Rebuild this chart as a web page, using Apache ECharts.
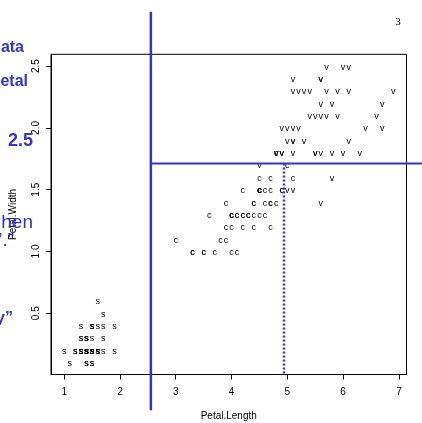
<!DOCTYPE html>
<html>
<head>
<meta charset="utf-8">
<script src="https://cdn.jsdelivr.net/npm/echarts@6/dist/echarts.min.js"></script>
<style>html,body{margin:0;padding:0;background:#fff}#c{width:422px;height:423px}</style>
</head>
<body>
<div id="c"></div>
<script>
const setosaLength = [1.4,1.4,1.3,1.5,1.4,1.7,1.4,1.5,1.4,1.5,1.5,1.6,1.4,1.1,1.2,1.5,1.3,1.4,1.7,1.5,1.7,1.5,1.0,1.7,1.9,1.6,1.6,1.5,1.4,1.6,1.6,1.5,1.5,1.4,1.5,1.2,1.3,1.4,1.3,1.5,1.3,1.3,1.3,1.6,1.9,1.4,1.6,1.4,1.5,1.4];
const setosaWidth  = [0.2,0.2,0.2,0.2,0.2,0.4,0.3,0.2,0.2,0.1,0.2,0.2,0.1,0.1,0.2,0.4,0.4,0.3,0.3,0.3,0.2,0.4,0.2,0.5,0.2,0.2,0.4,0.2,0.2,0.2,0.2,0.4,0.1,0.2,0.2,0.2,0.2,0.1,0.2,0.2,0.3,0.3,0.2,0.6,0.4,0.3,0.2,0.2,0.2,0.2];
const versicolorLength = [4.7,4.5,4.9,4.0,4.6,4.5,4.7,3.3,4.6,3.9,3.5,4.2,4.0,4.7,3.6,4.4,4.5,4.1,4.5,3.9,4.8,4.0,4.9,4.7,4.3,4.4,4.8,5.0,4.5,3.5,3.8,3.7,3.9,5.1,4.5,4.5,4.7,4.4,4.1,4.0,4.4,4.6,4.0,3.3,4.2,4.2,4.2,4.3,3.0,4.1];
const versicolorWidth  = [1.4,1.5,1.5,1.3,1.5,1.3,1.6,1.0,1.3,1.4,1.0,1.5,1.0,1.4,1.3,1.4,1.5,1.0,1.5,1.1,1.8,1.3,1.5,1.2,1.3,1.4,1.4,1.7,1.5,1.0,1.1,1.0,1.2,1.6,1.5,1.6,1.5,1.3,1.3,1.3,1.2,1.4,1.2,1.0,1.3,1.2,1.3,1.3,1.1,1.3];
const virginicaLength = [6.0,5.1,5.9,5.6,5.8,6.6,4.5,6.3,5.8,6.1,5.1,5.3,5.5,5.0,5.1,5.3,5.5,6.7,6.9,5.0,5.7,4.9,6.7,4.9,5.7,6.0,4.8,4.9,5.6,5.8,6.1,6.4,5.6,5.1,5.6,6.1,5.6,5.5,4.8,5.4,5.6,5.1,5.1,5.9,5.7,5.2,5.0,5.2,5.4,5.1];
const virginicaWidth  = [2.5,1.9,2.1,1.8,2.2,2.1,1.7,1.8,1.8,2.5,2.0,1.9,2.1,2.0,2.4,2.3,1.8,2.2,2.3,1.5,2.3,2.0,2.0,1.8,2.1,1.8,1.8,1.8,2.1,1.6,1.9,2.0,2.2,1.5,1.4,2.3,2.4,1.8,1.8,2.1,2.4,2.3,1.9,2.3,2.5,2.3,1.9,2.0,2.3,1.8];
const speciesLetters = ['s','c','v'];

const xTicks = [1,2,3,4,5,6,7];
const yTicks = [0.5,1.0,1.5,2.0,2.5];
const xRange = [0.764, 7.136];
const yRange = [0.004, 2.596];

// split lines (annotation), in data units
const splitLength1 = 2.554;
const splitWidth1 = 1.713;
const splitLength2 = 4.94;
const vLineSpan = [2.94, -0.285];
const hLineEnd = 7.45;

const leftTexts = ['ata','etal','2.5','hen','’.”','y”'];
const pageNumber = '3';

function pts(L, W, s) { return L.map((v,i)=>[v, W[i], s]); }
const allPoints = [].concat(
  pts(setosaLength, setosaWidth, speciesLetters[0]),
  pts(versicolorLength, versicolorWidth, speciesLetters[1]),
  pts(virginicaLength, virginicaWidth, speciesLetters[2])
);

const blue = '#3434c8';
const chart = echarts.init(document.getElementById('c'), null, {renderer:'canvas'});
const axisFont = {fontFamily:'Liberation Sans', fontSize:10, color:'#000'};

chart.setOption({
  animation:false,
  backgroundColor:'#fff',
  grid:{left:51, right:15.5, top:54.3, bottom:48.5, show:true, borderColor:'#000', borderWidth:1, backgroundColor:'transparent', outerBoundsMode:'none', containLabel:false},
  xAxis:{
    type:'value', min:xRange[0], max:xRange[1],
    name:'Petal.Length', nameLocation:'middle', nameGap:37,
    nameTextStyle:axisFont,
    axisLine:{show:true, onZero:false, lineStyle:{color:'#000', width:1}},
    axisTick:{show:true, customValues:xTicks, length:5, lineStyle:{color:'#000'}},
    axisLabel:{show:true, customValues:xTicks, margin:13, ...axisFont},
    splitLine:{show:false}
  },
  yAxis:{
    type:'value', min:yRange[0], max:yRange[1],
    name:'Petal.Width', nameLocation:'middle', nameGap:33,
    nameTextStyle:axisFont,
    axisLine:{show:true, onZero:false, lineStyle:{color:'#000', width:1}},
    axisTick:{show:true, customValues:yTicks, length:5, lineStyle:{color:'#000'}},
    axisLabel:{show:true, customValues:yTicks, rotate:90, margin:10, formatter:v=>Number(v).toFixed(1), ...axisFont},
    splitLine:{show:false}
  },
  series:[
    {
      type:'custom',
      data:allPoints,
      encode:{x:0, y:1},
      renderItem:function(params, api){
        const p = api.coord([api.value(0), api.value(1)]);
        return {type:'text', x:p[0], y:p[1]+1, style:{text:allPoints[params.dataIndex][2], fill:'#000', font:'9px "Liberation Sans"', align:'center', verticalAlign:'middle'}};
      },
      clip:false, z:2
    }
  ]
});

const px = (x, y) => chart.convertToPixel({gridIndex:0}, [x, y]);
const vTop = px(splitLength1, vLineSpan[0]), vBot = px(splitLength1, vLineSpan[1]);
const hL = px(splitLength1, splitWidth1), hR = px(hLineEnd, splitWidth1);
const dTop = px(splitLength2, splitWidth1), dBot = px(splitLength2, yRange[0]);

chart.setOption({
  graphic:[
    {type:'line', z:50, shape:{x1:vTop[0], y1:vTop[1], x2:vBot[0], y2:vBot[1]}, style:{stroke:blue, lineWidth:2.5}},
    {type:'line', z:50, shape:{x1:hL[0], y1:hL[1], x2:hR[0], y2:hR[1]}, style:{stroke:blue, lineWidth:2}},
    {type:'line', z:50, shape:{x1:dTop[0], y1:dTop[1], x2:dBot[0], y2:dBot[1]}, style:{stroke:blue, lineWidth:2.5, lineDash:[2,2]}},
    {type:'text', x:24, y:40, z:60, style:{text:leftTexts[0], fill:blue, font:'bold 16px "Liberation Sans"', align:'right', verticalAlign:'alphabetic'}},
    {type:'text', x:28, y:74, z:60, style:{text:leftTexts[1], fill:blue, font:'bold 16px "Liberation Sans"', align:'right', verticalAlign:'alphabetic'}},
    {type:'text', x:33, y:132, z:60, style:{text:leftTexts[2], fill:blue, font:'bold 18px "Liberation Sans"', align:'right', verticalAlign:'alphabetic'}},
    {type:'text', x:33, y:213.5, z:60, style:{text:leftTexts[3], fill:blue, font:'19px "Liberation Sans"', align:'right', verticalAlign:'alphabetic'}},
    {type:'text', x:14, y:231, z:60, style:{text:leftTexts[4], fill:blue, font:'19px "Liberation Sans"', align:'right', verticalAlign:'alphabetic'}},
    {type:'text', x:13, y:311, z:60, style:{text:leftTexts[5], fill:blue, font:'bold 16px "Liberation Sans"', align:'right', verticalAlign:'alphabetic'}},
    {type:'text', x:398, y:22, z:60, style:{text:pageNumber, fill:'#000', font:'11px "Liberation Serif"', align:'center', verticalAlign:'middle'}}
  ]
});
</script>
</body>
</html>
